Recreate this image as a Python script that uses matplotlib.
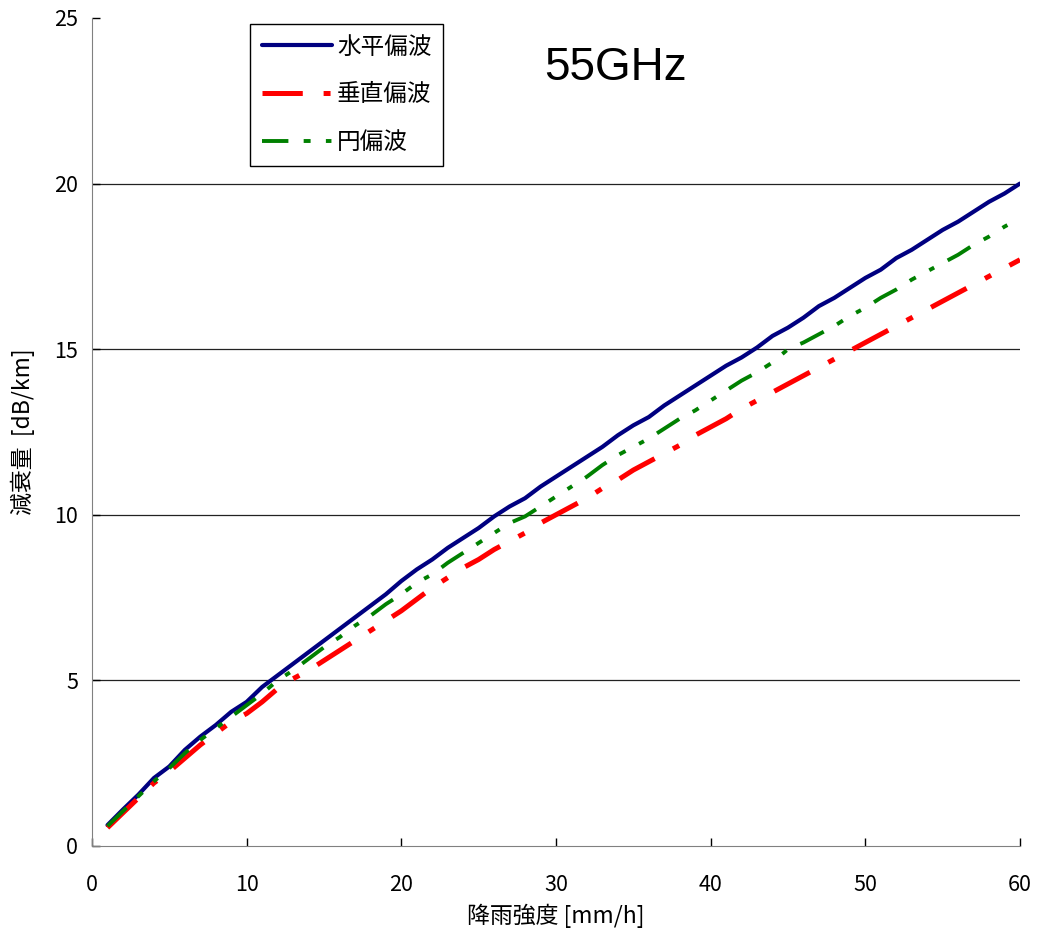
import numpy as np
import matplotlib as mpl
import matplotlib.pyplot as plt

plt.rcParams['font.family'] = ['Noto Sans CJK JP', 'DejaVu Sans']
plt.rcParams['lines.scale_dashes'] = False

# rain rate [mm/h]
rain = list(range(1, 61))

# attenuation [dB/km]
horiz = [0.63, 1.1, 1.55, 2.05, 2.4, 2.9, 3.3, 3.65, 4.05, 4.35,
         4.8, 5.15, 5.5, 5.85, 6.2, 6.55, 6.9, 7.25, 7.6, 8.0,
         8.35, 8.65, 9.0, 9.3, 9.6, 9.95, 10.25, 10.5, 10.85, 11.15,
         11.45, 11.75, 12.05, 12.4, 12.7, 12.95, 13.3, 13.6, 13.9, 14.2,
         14.5, 14.75, 15.05, 15.4, 15.65, 15.95, 16.3, 16.55, 16.85, 17.15,
         17.4, 17.75, 18.0, 18.3, 18.6, 18.85, 19.15, 19.45, 19.7, 20.0]
vert = [0.55, 1.0, 1.45, 1.9, 2.25, 2.65, 3.05, 3.4, 3.75, 4.0,
        4.35, 4.75, 5.05, 5.3, 5.6, 5.9, 6.2, 6.5, 6.8, 7.1,
        7.45, 7.8, 8.1, 8.4, 8.65, 8.95, 9.2, 9.45, 9.75, 10.0,
        10.25, 10.5, 10.8, 11.05, 11.35, 11.6, 11.85, 12.1, 12.4, 12.65,
        12.9, 13.2, 13.45, 13.7, 13.95, 14.2, 14.45, 14.7, 14.95, 15.2,
        15.45, 15.7, 15.95, 16.2, 16.45, 16.7, 16.95, 17.2, 17.45, 17.7]
circ = [0.6, 1.05, 1.5, 1.95, 2.35, 2.8, 3.2, 3.55, 3.9, 4.25,
        4.6, 5.0, 5.3, 5.65, 6.0, 6.3, 6.65, 6.95, 7.3, 7.6,
        7.95, 8.2, 8.55, 8.85, 9.15, 9.45, 9.75, 9.95, 10.25, 10.55,
        10.85, 11.15, 11.5, 11.8, 12.05, 12.3, 12.6, 12.9, 13.15, 13.45,
        13.75, 14.05, 14.3, 14.6, 15.0, 15.2, 15.45, 15.7, 16.0, 16.25,
        16.55, 16.8, 17.1, 17.35, 17.6, 17.85, 18.15, 18.4, 18.7, 18.95]

labels = ['水平偏波', '垂直偏波', '円偏波']

fig = plt.figure(figsize=(10.41, 9.36), dpi=100)
ax = fig.add_axes([0.0884, 0.0962, 0.8914, 0.8846])

ax.plot(rain, horiz, color='#000080', lw=3.0, solid_capstyle='round', label=labels[0])
ax.plot(rain, vert, color='#ff0000', lw=3.6, dashes=(29, 15, 5, 15), label=labels[1])
ax.plot(rain, circ, color='#008000', lw=2.8, dashes=(19, 11, 5, 11, 4, 11), label=labels[2])

ax.set_xlim(0, 60)
ax.set_ylim(0, 25)
ax.set_xticks(range(0, 61, 10))
ax.set_yticks(range(0, 26, 5))
ax.tick_params(direction='in', labelsize=15.5, length=6, width=1, pad=10)
ax.tick_params(axis='x', pad=20)

# horizontal grid only
for v in [5, 10, 15, 20]:
    ax.axhline(v, color='#222222', lw=0.9, zorder=0)

ax.spines['top'].set_visible(False)
ax.spines['right'].set_visible(False)
ax.spines['left'].set_color('#808080')
ax.spines['bottom'].set_color('#808080')

ax.set_xlabel('降雨強度 [mm/h]', fontsize=16.5, labelpad=6)
ax.set_ylabel('減衰量  [dB/km]', fontsize=16.5, labelpad=14)

ax.text(0.564, 0.94, '55GHz', transform=ax.transAxes, fontsize=33,
        ha='center', va='center', family=['Liberation Sans', 'DejaVu Sans'])

leg = ax.legend(loc='upper left', bbox_to_anchor=(0.170, 0.993), fontsize=17,
                handlelength=3.0, handletextpad=0.2, labelspacing=1.05,
                borderpad=0.5, borderaxespad=0, fancybox=False, framealpha=1)
leg.get_frame().set_edgecolor('black')
leg.get_frame().set_linewidth(1.0)

fig.savefig('out.png', dpi=100)
